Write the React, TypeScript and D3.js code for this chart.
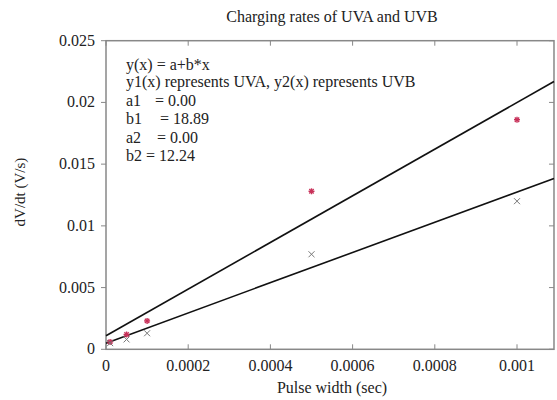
import React from "react";
import * as d3 from "d3";

const pulseWidths = [0.00001, 0.00005, 0.0001, 0.0005, 0.001];
const uvaRates = [0.0006, 0.0012, 0.0023, 0.0128, 0.0186];
const uvbRates = [0.0005, 0.0008, 0.0013, 0.0077, 0.012];
const fitA = { a: 0.0011, b: 18.89 };
const fitB = { a: 0.0005, b: 12.24 };
const xTicks = [0, 0.0002, 0.0004, 0.0006, 0.0008, 0.001];
const yTicks = [0, 0.005, 0.01, 0.015, 0.02, 0.025];
const noteLines = [
  "y(x) = a+b*x",
  "y1(x) represents UVA, y2(x) represents UVB",
];
const noteParams = [
  ["a1", "= 0.00"],
  ["b1", "= 18.89"],
  ["a2", "= 0.00"],
  ["b2", "= 12.24"],
];
const xMax = 0.00109;

const W = 557;
const H = 400;
const font = "'Liberation Serif', 'Times New Roman', serif";

export default function App() {
  const x = d3.scaleLinear().domain([0, 0.001]).range([106, 517]);
  const y = d3.scaleLinear().domain([0, 0.025]).range([349.3, 40.7]);

  const lineFor = (f: { a: number; b: number }) =>
    d3.line<number>()
      .x((d) => x(d))
      .y((d) => y(f.a + f.b * d))([0, xMax]) as string;

  const x0 = x(0);
  const x1 = x(xMax);
  const y0 = y(0);
  const y1 = y(0.025);
  const tk = 5;
  const paramRows = [106, 124, 143, 161];
  const eqX = [155, 160, 157, 146];

  return (
    <svg width={W} height={H} style={{ position: "absolute", left: 0, top: 0, background: "#fff" }} fontFamily={font}>
      <text x={332} y={22} textAnchor="middle" fontSize={16} fill="#222">
        Charging rates of UVA and UVB
      </text>

      <rect x={x0} y={y1} width={x1 - x0} height={y0 - y1} fill="none" stroke="#888" strokeWidth={1.5} />

      {xTicks.map((t) => (
        <g key={"x" + t}>
          <line x1={x(t)} x2={x(t)} y1={y0} y2={y0 - tk} stroke="#888" />
          <line x1={x(t)} x2={x(t)} y1={y1} y2={y1 + tk} stroke="#888" />
          <text x={x(t)} y={371} textAnchor="middle" fontSize={16} fill="#222">
            {t === 0 ? "0" : d3.format("~g")(t)}
          </text>
        </g>
      ))}
      {yTicks.map((t) => (
        <g key={"y" + t}>
          <line x1={x0} x2={x0 - tk} y1={y(t)} y2={y(t)} stroke="#888" />
          <line x1={x1} x2={x1 - tk} y1={y(t)} y2={y(t)} stroke="#888" />
          <text x={95} y={y(t) + 5} textAnchor="end" fontSize={16} fill="#222">
            {t === 0 ? "0" : d3.format("~g")(t)}
          </text>
        </g>
      ))}

      <text x={332} y={393} textAnchor="middle" fontSize={16} fill="#222">
        Pulse width (sec)
      </text>
      <text transform="translate(25,192) rotate(-90)" textAnchor="middle" fontSize={15} fill="#222">
        dV/dt (V/s)
      </text>

      <g fontSize={16} fill="#222">
        {noteLines.map((s, i) => (
          <text key={s} x={126} y={[70, 87][i]}>{s}</text>
        ))}
        {noteParams.map((p, i) => (
          <g key={p[0]}>
            <text x={126} y={paramRows[i]}>{p[0]}</text>
            <text x={eqX[i]} y={paramRows[i]}>{p[1]}</text>
          </g>
        ))}
      </g>

      <path d={lineFor(fitA)} stroke="#111" strokeWidth={1.6} fill="none" />
      <path d={lineFor(fitB)} stroke="#111" strokeWidth={1.6} fill="none" />

      {pulseWidths.map((p, i) => {
        const cx = x(p);
        const cy = y(uvaRates[i]);
        return (
          <g key={"a" + i} stroke="#c8325a" strokeWidth={1.4}>
            <line x1={cx - 3} x2={cx + 3} y1={cy} y2={cy} />
            <line x1={cx} x2={cx} y1={cy - 3} y2={cy + 3} />
            <line x1={cx - 2.2} x2={cx + 2.2} y1={cy - 2.2} y2={cy + 2.2} />
            <line x1={cx - 2.2} x2={cx + 2.2} y1={cy + 2.2} y2={cy - 2.2} />
          </g>
        );
      })}
      {pulseWidths.map((p, i) => {
        const cx = x(p);
        const cy = y(uvbRates[i]);
        return (
          <g key={"b" + i} stroke="#777" strokeWidth={1}>
            <line x1={cx - 3} x2={cx + 3} y1={cy - 3} y2={cy + 3} />
            <line x1={cx - 3} x2={cx + 3} y1={cy + 3} y2={cy - 3} />
          </g>
        );
      })}
    </svg>
  );
}
